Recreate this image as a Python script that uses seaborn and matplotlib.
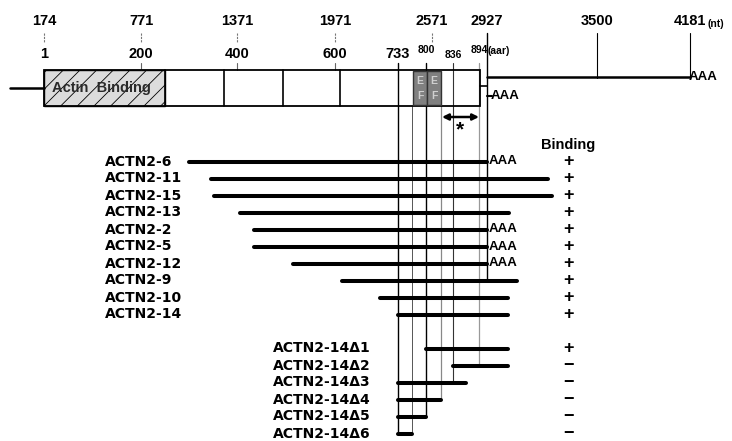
import matplotlib
matplotlib.use("Agg")
import matplotlib.pyplot as plt
import matplotlib.patches as mpatches
import seaborn as sns
import pandas as pd

# ---------------- data (diagram units along the horizontal scale) ----------------
nt_labels = ['174', '771', '1371', '1971', '2571', '2927', '3500', '4181']
nt_pos = [44, 141, 237, 335, 432, 487, 597, 690]
aa_labels = ['1', '200', '400', '600', '733', '800', '836', '894']
aa_pos = [44, 141, 237, 335, 398, 426, 453, 479]

clone_names = ['ACTN2-6', 'ACTN2-11', 'ACTN2-15', 'ACTN2-13', 'ACTN2-2', 'ACTN2-5',
               'ACTN2-12', 'ACTN2-9', 'ACTN2-10', 'ACTN2-14']
clone_start = [189, 211, 214, 240, 254, 254, 293, 342, 380, 398]
clone_end = [487, 548, 552, 509, 487, 487, 487, 517, 508, 508]
clone_polyA = [True, False, False, False, True, True, True, False, False, False]
clone_binding = ['+', '+', '+', '+', '+', '+', '+', '+', '+', '+']

del_names = ['ACTN2-14\u03941', 'ACTN2-14\u03942', 'ACTN2-14\u03943',
             'ACTN2-14\u03944', 'ACTN2-14\u03945', 'ACTN2-14\u03946']
del_start = [426, 453, 398, 398, 398, 398]
del_end = [508, 508, 466, 441, 426, 412]
del_binding = ['+', '\u2212', '\u2212', '\u2212', '\u2212', '\u2212']

# ---------------- layout helpers ----------------
ROW0, ROWSTEP = 161.5, 17.0
def row_y(i):
    return ROW0 + ROWSTEP * i

rows = list(range(len(clone_names))) + [len(clone_names) + 1 + k for k in range(len(del_names))]
names = clone_names + del_names
starts = clone_start + del_start
ends = clone_end + del_end
binding = clone_binding + del_binding

recs = []
for n, r, s, e in zip(names, rows, starts, ends):
    recs.append({'clone': n, 'x': s, 'y': row_y(r)})
    recs.append({'clone': n, 'x': e, 'y': row_y(r)})
df = pd.DataFrame(recs)

sns.set_theme(style="white")
plt.rcParams['font.family'] = ['Liberation Sans', 'DejaVu Sans']
plt.rcParams['hatch.color'] = '#b0b0b0'
plt.rcParams['hatch.linewidth'] = 0.6

fig = plt.figure(figsize=(7.32, 4.41), dpi=100)
ax = fig.add_axes([0, 0, 1, 1])
ax.set_xlim(0, 732)
ax.set_ylim(441, 0)
ax.axis('off')

BOLD = dict(fontweight='bold', color='black')
LABELFONT = ['DejaVu Sans']

# ---------------- top rulers ----------------
for lab, x in zip(nt_labels, nt_pos):
    ax.text(x, 21, lab, ha='center', va='center', fontsize=10.5, **BOLD)
ax.text(707, 24, '(nt)', ha='left', va='center', fontsize=7.5, **BOLD)
for x in nt_pos[:5]:
    ax.plot([x, x], [33, 42], color='#777777', lw=0.8, ls=(0, (2, 1)))
for x in nt_pos[6:]:
    ax.plot([x, x], [33, 78], color='black', lw=0.8)
ax.plot([487, 487], [33, 281], color='black', lw=1.0)

small = {'800': (50, 7.5), '836': (55, 7.5), '894': (50, 7.5)}
for lab, x in zip(aa_labels, aa_pos):
    y, fs = small.get(lab, (54, 10.5))
    ax.text(x, y, lab, ha='center', va='center', fontsize=fs, **BOLD)
ax.text(488, 51, '(aar)', ha='left', va='center', fontsize=7.5, **BOLD)
for x in aa_pos[1:4]:
    ax.plot([x, x], [63, 70], color='#666666', lw=0.8)

# ---------------- protein box ----------------
ax.plot([10, 44], [88, 88], color='black', lw=1.8)
ax.add_patch(mpatches.Rectangle((44, 70), 436, 36, fill=False, ec='black', lw=1.3, zorder=2))
ax.add_patch(mpatches.Rectangle((44, 70), 121, 36, fc='#dcdcdc', ec='black', lw=1.0,
                                hatch='//', zorder=1))
ax.text(52, 88, 'Actin  Binding', ha='left', va='center', fontsize=10.5,
        fontweight='bold', color='#2a2a2a', zorder=3)
for x in [165, 224, 283, 340]:
    ax.plot([x, x], [70, 106], color='black', lw=1.2)
for x0 in [413, 427]:
    ax.add_patch(mpatches.Rectangle((x0, 71), 14, 34, fc='#808080', ec='#333333', lw=1.0, zorder=3))
    ax.text(x0 + 7, 81, 'E', ha='center', va='center', fontsize=7.5, fontweight='bold',
            color='#d0d0d0', zorder=4)
    ax.text(x0 + 7, 96, 'F', ha='center', va='center', fontsize=7.5, fontweight='bold',
            color='#d0d0d0', zorder=4)

# 3' UTR and poly-A
ax.plot([487, 690], [77, 77], color='black', lw=1.8)
ax.text(689, 77, 'AAA', ha='left', va='center', fontsize=9.5, **BOLD)
ax.plot([480, 487], [86, 86], color='black', lw=1.2)
ax.plot([487, 492], [96, 96], color='black', lw=1.5)
ax.text(491, 96, 'AAA', ha='left', va='center', fontsize=9.5, **BOLD)

# double arrow + asterisk
ax.annotate('', xy=(442, 117), xytext=(479, 117),
            arrowprops=dict(arrowstyle='<|-|>', color='black', lw=1.8, mutation_scale=9,
                            shrinkA=0, shrinkB=0))
ax.text(460, 130, '*', ha='center', va='center', fontsize=15, **BOLD)

# ---------------- vertical guide lines ----------------
guides = [(398, 63, row_y(16), 'black', 1.0),
          (412, 106, row_y(16), '#555555', 0.7),
          (426, 63, row_y(15), 'black', 1.0),
          (441, 106, row_y(14), '#888888', 0.9),
          (453, 63, row_y(13), '#333333', 0.8),
          (479, 63, row_y(12), '#999999', 0.9)]
for x, y0, y1, c, lw in guides:
    ax.plot([x, x], [y0, y1], color=c, lw=lw, zorder=1)

# ---------------- clone bars ----------------
sns.lineplot(data=df, x='x', y='y', units='clone', estimator=None, sort=False,
             color='black', lw=2.9, ax=ax, legend=False, zorder=3)
ax.set_xlim(0, 732)
ax.set_ylim(441, 0)
ax.axis('off')

for i, (n, r) in enumerate(zip(names, rows)):
    lx = 105 if i < len(clone_names) else 273
    ax.text(lx, row_y(r), n, ha='left', va='center', fontsize=10,
            family=LABELFONT, **BOLD)
for i, pa in enumerate(clone_polyA):
    if pa:
        ax.text(489, row_y(i), 'AAA', ha='left', va='center', fontsize=9.5, **BOLD)

ax.text(568, 145, 'Binding', ha='center', va='center', fontsize=10.5, **BOLD)
for b, r in zip(binding, rows):
    ax.text(568, row_y(r), b, ha='center', va='center', fontsize=13, **BOLD)

fig.savefig('out.png', dpi=100)
